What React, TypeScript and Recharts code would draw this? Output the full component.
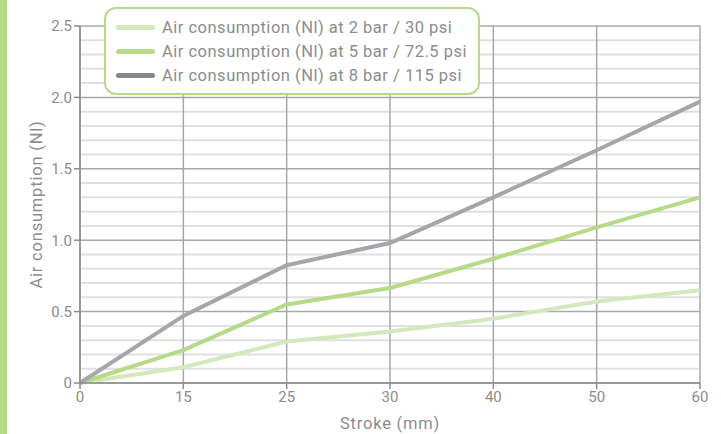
import { LineChart, Line, XAxis, YAxis, CartesianGrid, Legend } from 'recharts'

const strokes = ['0', '15', '25', '30', '40', '50', '60']
const at2bar = [0, 0.11, 0.29, 0.36, 0.45, 0.57, 0.65]
const at5bar = [0, 0.23, 0.55, 0.665, 0.87, 1.09, 1.3]
const at8bar = [0, 0.47, 0.825, 0.98, 1.3, 1.63, 1.97]

const majorTicks = [0, 0.5, 1, 1.5, 2, 2.5]
const minorTicks = [
  0.1, 0.2, 0.3, 0.4, 0.6, 0.7, 0.8, 0.9, 1.1, 1.2, 1.3, 1.4, 1.6, 1.7, 1.8, 1.9, 2.1, 2.2, 2.3, 2.4,
]

const SERIES = [
  { key: 'bar2', name: 'Air consumption (Nl) at 2 bar / 30 psi', color: '#d3e8bb' },
  { key: 'bar5', name: 'Air consumption (Nl) at 5 bar / 72.5 psi', color: '#b6da88' },
  { key: 'bar8', name: 'Air consumption (Nl) at 8 bar / 115 psi', color: '#a5a5aa' },
]
const SWATCH = ['#d3e8bb', '#b6da88', '#86868b']

const FONT = 'Roboto, "DejaVu Sans", sans-serif'
const TEXT = '#8c8c8c'

const data = strokes.map((stroke, i) => ({
  stroke,
  bar2: at2bar[i],
  bar5: at5bar[i],
  bar8: at8bar[i],
}))

function LegendBox() {
  return (
    <div
      style={{
        width: 376,
        height: 88,
        border: '2px solid #b6da88',
        borderRadius: 12,
        background: '#fff',
        padding: '6px 0 0 10px',
        boxSizing: 'border-box',
      }}
    >
      {SERIES.map((s, i) => (
        <div key={s.key} style={{ display: 'flex', alignItems: 'center', height: 24 }}>
          <div style={{ width: 39, height: 5, borderRadius: 3, background: SWATCH[i], marginRight: 7 }} />
          <span
            style={{ fontFamily: FONT, fontSize: 16.5, letterSpacing: 0.5, color: TEXT, whiteSpace: 'nowrap' }}
          >
            {s.name}
          </span>
        </div>
      ))}
    </div>
  )
}

export default function App() {
  return (
    <div style={{ position: 'absolute', left: 0, top: 0, width: 721, height: 434, background: '#fff' }}>
      <div style={{ position: 'absolute', left: 0, top: 0, width: 7, height: 434, background: '#b6da88' }} />
      <LineChart width={721} height={434} data={data} margin={{ top: 26, right: 21, bottom: 0, left: 0 }}>
        <CartesianGrid vertical={false} horizontalValues={minorTicks} stroke="#e0e0e0" strokeWidth={2} />
        <CartesianGrid horizontalValues={majorTicks} stroke="#a8a8a8" strokeWidth={1.5} />
        <XAxis
          dataKey="stroke"
          height={51}
          stroke="#8c8c8c"
          strokeWidth={1.5}
          tickSize={6}
          tick={{ fill: TEXT, fontSize: 15, fontFamily: FONT }}
          label={{
            value: 'Stroke (mm)',
            position: 'insideBottom',
            offset: 5,
            fill: TEXT,
            fontSize: 16.5,
            letterSpacing: 0.8,
            fontFamily: FONT,
          }}
        />
        <YAxis
          width={80}
          domain={[0, 2.5]}
          ticks={majorTicks}
          interval={0}
          stroke="#8c8c8c"
          strokeWidth={1.5}
          tickSize={6}
          tickFormatter={(v: number) => (v === 0 ? '0' : v.toFixed(1))}
          tick={{ fill: TEXT, fontSize: 15, fontFamily: FONT }}
          label={{
            value: 'Air consumption (Nl)',
            angle: -90,
            position: 'insideLeft',
            offset: 36,
            style: { textAnchor: 'middle' },
            fill: TEXT,
            fontSize: 16.5,
            letterSpacing: 0.8,
            fontFamily: FONT,
          }}
        />
        <Legend
          layout="vertical"
          verticalAlign="middle"
          align="center"
          content={() => <LegendBox />}
          wrapperStyle={{ position: 'absolute', left: 104, top: 7, width: 376, height: 88 }}
        />
        {SERIES.map((s) => (
          <Line
            key={s.key}
            type="linear"
            dataKey={s.key}
            name={s.name}
            stroke={s.color}
            strokeWidth={4}
            dot={false}
            isAnimationActive={false}
          />
        ))}
      </LineChart>
    </div>
  )
}
